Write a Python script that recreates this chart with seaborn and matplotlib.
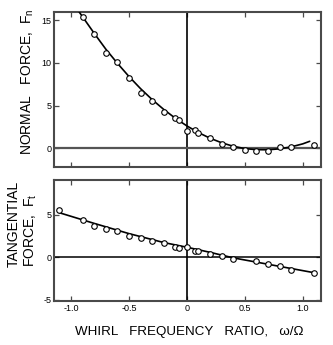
import numpy as np
import pandas as pd
import matplotlib
matplotlib.use("Agg")
import matplotlib.pyplot as plt
import seaborn as sns

# ---------------- data ----------------
x_normal = [-0.9, -0.8, -0.7, -0.6, -0.5, -0.4, -0.3, -0.2, -0.1, -0.07, 0.0, 0.07,
            0.1, 0.2, 0.3, 0.4, 0.5, 0.6, 0.7, 0.8, 0.9, 1.1]
y_normal = [15.3, 13.4, 11.1, 10.1, 8.2, 6.5, 5.55, 4.25, 3.5, 3.33, 2.05, 2.12,
            1.8, 1.2, 0.5, 0.18, -0.15, -0.28, -0.32, 0.1, 0.1, 0.4]

x_normal_fit = [-0.93, -0.8, -0.7, -0.6, -0.5, -0.4, -0.3, -0.2, -0.1, 0.0, 0.1,
                0.2, 0.3, 0.4, 0.5, 0.6, 0.7, 0.8, 0.9, 1.0, 1.06]
y_normal_fit = [15.95, 13.45, 11.6, 9.95, 8.4, 6.98, 5.7, 4.55, 3.52, 2.62, 1.84,
                1.18, 0.65, 0.24, -0.03, -0.16, -0.17, -0.06, 0.17, 0.52, 0.82]

x_tang = [-1.1, -0.9, -0.8, -0.7, -0.6, -0.5, -0.4, -0.3, -0.2, -0.1, -0.07, 0.0,
          0.07, 0.1, 0.2, 0.3, 0.4, 0.6, 0.7, 0.8, 0.9, 1.1]
y_tang = [5.6, 4.4, 3.65, 3.37, 3.1, 2.52, 2.33, 1.94, 1.71, 1.28, 1.16, 1.2,
          0.7, 0.7, 0.39, 0.16, -0.19, -0.47, -0.81, -1.05, -1.47, -1.86]

x_tang_fit = [-1.1, -0.8, -0.5, -0.2, 0.0, 0.2, 0.4, 0.6, 0.8, 1.1]
y_tang_fit = [5.25, 4.0, 2.8, 1.75, 1.2, 0.6, -0.05, -0.55, -1.05, -1.8]

x_ticks = [-1.0, -0.5, 0.0, 0.5, 1.0]
x_ticklabels = ["-1.0", "-0.5", "0", "0.5", "1.0"]
yticks_normal = [0, 5, 10, 15]
yticks_tang = [-5, 0, 5]
ytl_tang = ["-5", "0", "5"]

# ---------------- styling ----------------
sns.set_theme(style="ticks")
plt.rcParams["font.family"] = ["Liberation Sans", "DejaVu Sans"]
plt.rcParams["mathtext.fontset"] = "custom"
plt.rcParams["mathtext.rm"] = "Liberation Sans"

frame_col = "#4a4a4a"
W, H = 333, 345
fig = plt.figure(figsize=(W / 100, H / 100), dpi=100)
fig.patch.set_facecolor("white")

ax1 = fig.add_axes([54 / W, 1 - 167.3 / H, (320.7 - 54) / W, (167.3 - 11.5) / H])
ax2 = fig.add_axes([54 / W, 1 - 301 / H, (320.7 - 54) / W, (301 - 180) / H])

df_n = pd.DataFrame({"x": x_normal, "y": y_normal})
df_nf = pd.DataFrame({"x": x_normal_fit, "y": y_normal_fit})
df_t = pd.DataFrame({"x": x_tang, "y": y_tang})
df_tf = pd.DataFrame({"x": x_tang_fit, "y": y_tang_fit})

for ax in (ax1, ax2):
    ax.axvline(0, color="black", lw=1.2, zorder=1)
ax1.axhline(0, color="#555555", lw=1.6, zorder=1)
ax2.axhline(0, color="black", lw=1.1, zorder=1)

sns.lineplot(data=df_nf, x="x", y="y", ax=ax1, color="black", lw=1.2, zorder=3,
             sort=False, estimator=None)
sns.scatterplot(data=df_n, x="x", y="y", ax=ax1, marker="o", s=16,
                facecolor="white", edgecolor="black", linewidth=0.8, zorder=4)
sns.lineplot(data=df_tf, x="x", y="y", ax=ax2, color="black", lw=1.2, zorder=3,
             sort=False, estimator=None)
sns.scatterplot(data=df_t, x="x", y="y", ax=ax2, marker="o", s=16,
                facecolor="white", edgecolor="black", linewidth=0.8, zorder=4)

ax1.set_xlim(-1.147, 1.155)
ax2.set_xlim(-1.147, 1.155)
ax1.set_ylim(-2.22, 16.0)
ax2.set_ylim(-5.12, 9.1)

for ax in (ax1, ax2):
    ax.set_xlabel("")
    ax.set_ylabel("")
    ax.set_xticks(x_ticks)
    for sp in ax.spines.values():
        sp.set_visible(True)
        sp.set_color(frame_col)
        sp.set_linewidth(1.5)
    ax.tick_params(direction="in", length=3.6, width=0.9, color=frame_col,
                   top=True, right=True, labelsize=6.5, pad=2, labelcolor="black")

ax1.set_yticks(yticks_normal)
ax1.set_yticklabels([str(v) for v in yticks_normal])
ax1.set_xticklabels([])
ax2.set_yticks(yticks_tang)
ax2.set_yticklabels(ytl_tang)
ax2.set_xticklabels(x_ticklabels)

fig.text(28 / W, 1 - 155 / H, "NORMAL   FORCE,  F$_\\mathrm{n}$", rotation=90,
         ha="center", va="bottom", fontsize=10, color="black")
fig.text(22.5 / W, 1 - 266.7 / H, "TANGENTIAL\nFORCE,  F$_\\mathrm{t}$", rotation=90,
         ha="center", va="bottom", multialignment="left", fontsize=10,
         color="black", linespacing=1.15)
fig.text(189.5 / W, 1 - 331.7 / H, "WHIRL   FREQUENCY   RATIO,   ω/Ω",
         ha="center", va="center", fontsize=9.6, color="black")

fig.savefig("out.png", dpi=100, facecolor="white")
